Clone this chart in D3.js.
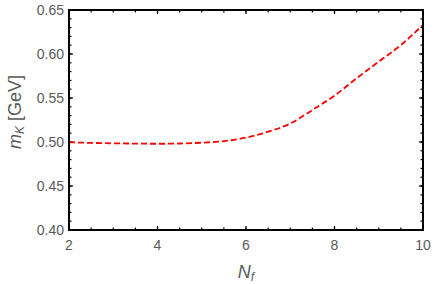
<!DOCTYPE html>
<html>
<head>
<meta charset="utf-8">
<script src="https://d3js.org/d3.v7.min.js"></script>
<style>
  body { margin: 0; background: #fff; }
  svg text { font-family: "Liberation Sans", Arial, sans-serif; }
</style>
</head>
<body>
<div id="chart"></div>
<script>
// curve
var nf = [2, 2.5, 3, 3.5, 4, 4.5, 5, 5.5, 6, 6.5, 7, 7.5, 8, 8.5, 9, 9.5, 10];
var mK = [0.4997, 0.499, 0.4985, 0.4982, 0.498, 0.4983, 0.4992, 0.501, 0.505, 0.5117, 0.521, 0.5364, 0.5527, 0.5724, 0.5913, 0.6102, 0.633];

var xTicks = [2, 4, 6, 8, 10];
var yTicks = [0.40, 0.45, 0.50, 0.55, 0.60, 0.65];

var width = 436, height = 284;
var pLeft = 69, pRight = 423, pTop = 10, pBottom = 230;

var svg = d3.select("#chart").append("svg")
    .attr("width", width)
    .attr("height", height);

var x = d3.scaleLinear().domain([2, 10]).range([pLeft, pRight]);
var y = d3.scaleLinear().domain([0.40, 0.65]).range([pBottom, pTop]);

var xMinor = d3.range(2, 10.01, 0.5);
var yMinor = d3.range(0, 26).map(i => 0.40 + i * 0.01);

// ticks on all four sides of the frame
function tickLines(vals, major) {
    var len = major ? 4 : 2.5;
    var g = svg.append("g").attr("stroke", "#000").attr("stroke-width", 1.2);
    vals.forEach(v => {
        g.append("line").attr("x1", x(v)).attr("x2", x(v)).attr("y1", pBottom).attr("y2", pBottom - len);
        g.append("line").attr("x1", x(v)).attr("x2", x(v)).attr("y1", pTop).attr("y2", pTop + len);
    });
}
function tickLinesY(vals, major) {
    var len = major ? 4 : 2.5;
    var g = svg.append("g").attr("stroke", "#000").attr("stroke-width", 1.2);
    vals.forEach(v => {
        g.append("line").attr("y1", y(v)).attr("y2", y(v)).attr("x1", pLeft).attr("x2", pLeft + len);
        g.append("line").attr("y1", y(v)).attr("y2", y(v)).attr("x1", pRight).attr("x2", pRight - len);
    });
}
tickLines(xMinor, false);
tickLines(xTicks, true);
tickLinesY(yMinor, false);
tickLinesY(yTicks, true);

// the curve
var line = d3.line()
    .x((d, i) => x(nf[i]))
    .y(d => y(d))
    .curve(d3.curveMonotoneX);

svg.append("path")
    .datum(mK)
    .attr("fill", "none")
    .attr("stroke", "#ff0000")
    .attr("stroke-width", 1.8)
    .attr("stroke-dasharray", "6,3")
    .attr("d", line);

// frame
svg.append("rect")
    .attr("x", pLeft).attr("y", pTop)
    .attr("width", pRight - pLeft).attr("height", pBottom - pTop)
    .attr("fill", "none")
    .attr("stroke", "#000")
    .attr("stroke-width", 2);

// tick labels
svg.append("g").selectAll("text").data(xTicks).join("text")
    .attr("x", d => x(d))
    .attr("y", 250)
    .attr("text-anchor", "middle")
    .attr("font-size", 14)
    .attr("fill", "#5a5a5a")
    .text(d => d);

svg.append("g").selectAll("text").data(yTicks).join("text")
    .attr("x", pLeft - 5)
    .attr("y", d => y(d) + 5)
    .attr("text-anchor", "end")
    .attr("font-size", 14)
    .attr("fill", "#5a5a5a")
    .text(d => d.toFixed(2));

// axis labels
var xl = svg.append("text")
    .attr("x", 246).attr("y", 278)
    .attr("text-anchor", "middle")
    .attr("font-size", 18)
    .attr("fill", "#5a5a5a");
xl.append("tspan").attr("font-style", "italic").text("N");
xl.append("tspan").attr("font-style", "italic").attr("font-size", 12).attr("dy", 3).text("f");

var yl = svg.append("text")
    .attr("transform", "translate(21,112) rotate(-90)")
    .attr("text-anchor", "middle")
    .attr("font-size", 18)
    .attr("fill", "#5a5a5a");
yl.append("tspan").attr("font-style", "italic").text("m");
yl.append("tspan").attr("font-style", "italic").attr("font-size", 12).attr("dy", 3).text("K");
yl.append("tspan").attr("dy", -3).text(" [GeV]");
</script>
</body>
</html>
